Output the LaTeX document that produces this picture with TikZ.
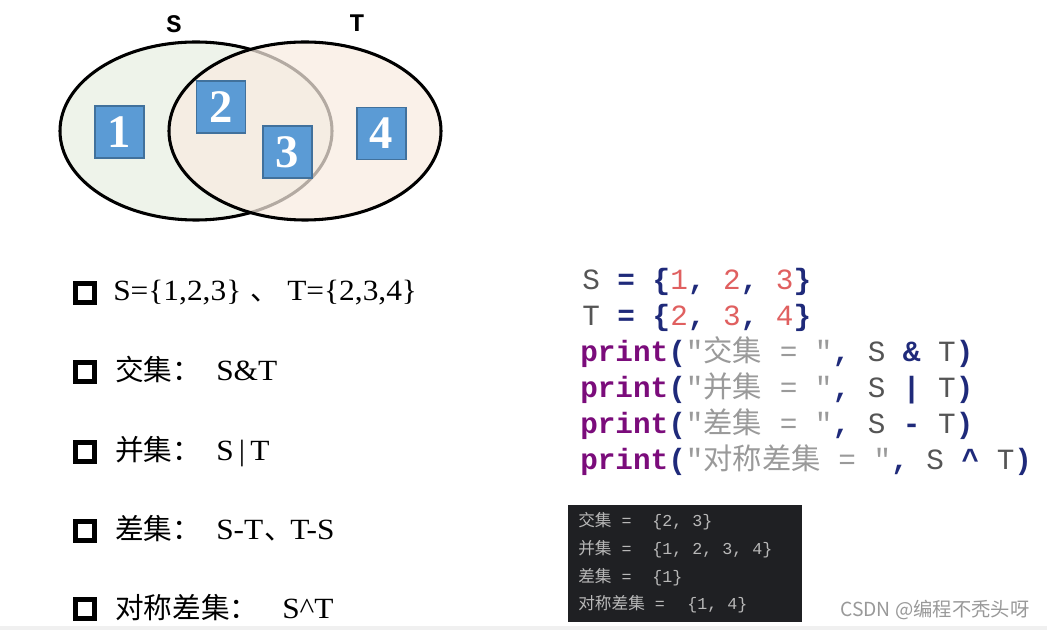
\documentclass[tikz,border=0pt]{standalone}
\usepackage{fontspec}
\usepackage{graphicx}
\setmainfont{Liberation Serif}
\newfontfamily\cjk{Noto Sans CJK SC}
\newfontfamily\codefont{Liberation Mono}
\definecolor{sfill}{HTML}{EEF3EA}
\definecolor{tfill}{HTML}{F9ECE1}
\definecolor{boxblue}{HTML}{5B9BD5}
\definecolor{boxedge}{HTML}{41719C}
\definecolor{cvar}{HTML}{555555}
\definecolor{cop}{HTML}{1F2A7A}
\definecolor{cnum}{HTML}{E06060}
\definecolor{ckw}{HTML}{7B0C7B}
\definecolor{cstr}{HTML}{9A9A9A}
\definecolor{term}{HTML}{1F2023}
\definecolor{termtxt}{HTML}{B8B8B8}
\newcommand{\op}[1]{\textcolor{cop}{\bfseries #1}}
\newcommand{\vr}[1]{\textcolor{cvar}{#1}}
\newcommand{\nm}[1]{\textcolor{cnum}{#1}}
\newcommand{\kw}[1]{\textcolor{ckw}{\bfseries #1}}
\newcommand{\st}[1]{\textcolor{cstr}{#1}}
\newcommand{\lat}[1]{\scalebox{1.07}[1]{#1}}
\tikzset{
  numbox/.style={draw=boxedge, fill=boxblue, line width=0.8pt, minimum width=36.75pt, minimum height=39pt, inner sep=0pt, text=white, font=\fontsize{35}{35}\selectfont\bfseries},
  setlabel/.style={font=\codefont\fontsize{19}{19}\selectfont\bfseries, inner sep=0pt},
  chk/.style={draw=black, line width=3.4pt, minimum size=14.5pt, inner sep=0pt},
  item/.style={anchor=base west, inner sep=0pt, font=\fontsize{22}{22}\selectfont},
  itemc/.style={anchor=base west, inner sep=0pt, font=\cjk\fontsize{21.5}{21.5}\selectfont},
  code/.style={anchor=base west, inner sep=0pt, font=\codefont\fontsize{22}{22}\selectfont},
  termline/.style={anchor=base west, inner sep=0pt, text=termtxt, font=\codefont\fontsize{12.5}{12.5}\selectfont},
}
\begin{document}
\begin{tikzpicture}[x=0.75pt,y=-0.75pt]
\useasboundingbox (0,0) rectangle (1047,630);
\fill[white] (0,0) rectangle (1047,630);
\fill[gray!12] (0,626) rectangle (1047,630);
% Venn
\draw[fill=sfill, line width=2.3pt] (196,131) ellipse [x radius=136, y radius=89];
\fill[tfill, opacity=0.72] (305,131) ellipse [x radius=136, y radius=89];
\draw[line width=2.3pt] (305,131) ellipse [x radius=136, y radius=89];
\node[setlabel] (S) at (174,24) {S};
\node[setlabel] (T) at (357,23) {T};
\node[numbox] (n1) at (119.5,132) {1};
\node[numbox] (n2) at (221,107) {2};
\node[numbox] (n3) at (287.5,152) {3};
\node[numbox] (n4) at (381.5,133.5) {4};
% list
\node[chk] (b1) at (85,293) {};
\node[chk] (b2) at (85,372) {};
\node[chk] (b3) at (85,452) {};
\node[chk] (b4) at (85,531) {};
\node[chk] (b5) at (85,609) {};
\node[item] (l1a) at (113,301) {\lat{S=\{1,2,3\}}};
\node[itemc] (l1b) at (250,301) {、};
\node[item] (l1c) at (287,301) {\lat{T=\{2,3,4\}}};
\node[itemc] (l2a) at (115,381) {交集：};
\node[item] (l2b) at (216,381) {\lat{S\&T}};
\node[itemc] (l3a) at (115,461) {并集：};
\node[item] (l3b) at (216,461) {\lat{S\,|\,T}};
\node[itemc] (l4a) at (115,540) {差集：};
\node[item] (l4b) at (216,540) {\lat{S-T}};
\node[itemc] (l4c) at (264,540) {、};
\node[item] (l4d) at (290,540) {\lat{T-S}};
\node[itemc] (l5a) at (115,619) {对称差集：};
\node[item] (l5b) at (282,619) {\lat{S\^{}T}};
% code
\node[code] (c1) at (582,290) {\vr{S} \op{=} \op{\{}\nm{1}\op{,} \nm{2}\op{,} \nm{3}\op{\}}};
\node[code] (c2) at (582,326) {\vr{T} \op{=} \op{\{}\nm{2}\op{,} \nm{3}\op{,} \nm{4}\op{\}}};
\node[code] (c3) at (580,362) {\kw{print}\op{(}\st{"{\cjk 交集} = "}\op{,} \vr{S} \op{\&} \vr{T}\op{)}};
\node[code] (c4) at (580,398) {\kw{print}\op{(}\st{"{\cjk 并集} = "}\op{,} \vr{S} \op{|} \vr{T}\op{)}};
\node[code] (c5) at (580,434) {\kw{print}\op{(}\st{"{\cjk 差集} = "}\op{,} \vr{S} \op{-} \vr{T}\op{)}};
\node[code] (c6) at (580,470) {\kw{print}\op{(}\st{"{\cjk 对称差集} = "}\op{,} \vr{S} \op{\^{}} \vr{T}\op{)}};
% terminal
\node[fill=term, inner sep=0pt, minimum width=175.5pt, minimum height=87.75pt, anchor=north west] (tb) at (568,505) {};
\node[termline] (t1a) at (578,527) {{\cjk\fontsize{12.5}{12.5}\selectfont 交集} =};
\node[termline] (t1b) at (652,527) {\{2, 3\}};
\node[termline] (t2a) at (578,555) {{\cjk\fontsize{12.5}{12.5}\selectfont 并集} =};
\node[termline] (t2b) at (652,555) {\{1, 2, 3, 4\}};
\node[termline] (t3a) at (578,583) {{\cjk\fontsize{12.5}{12.5}\selectfont 差集} =};
\node[termline] (t3b) at (652,583) {\{1\}};
\node[termline] (t4a) at (578,610) {{\cjk\fontsize{12.5}{12.5}\selectfont 对称差集} =};
\node[termline] (t4b) at (687,610) {\{1, 4\}};
% watermark
\node[anchor=base west, inner sep=0pt, text=gray!80, font=\cjk\fontsize{14.5}{14.5}\selectfont] (wm) at (840,617) {CSDN @编程不秃头呀};
\end{tikzpicture}
\end{document}
